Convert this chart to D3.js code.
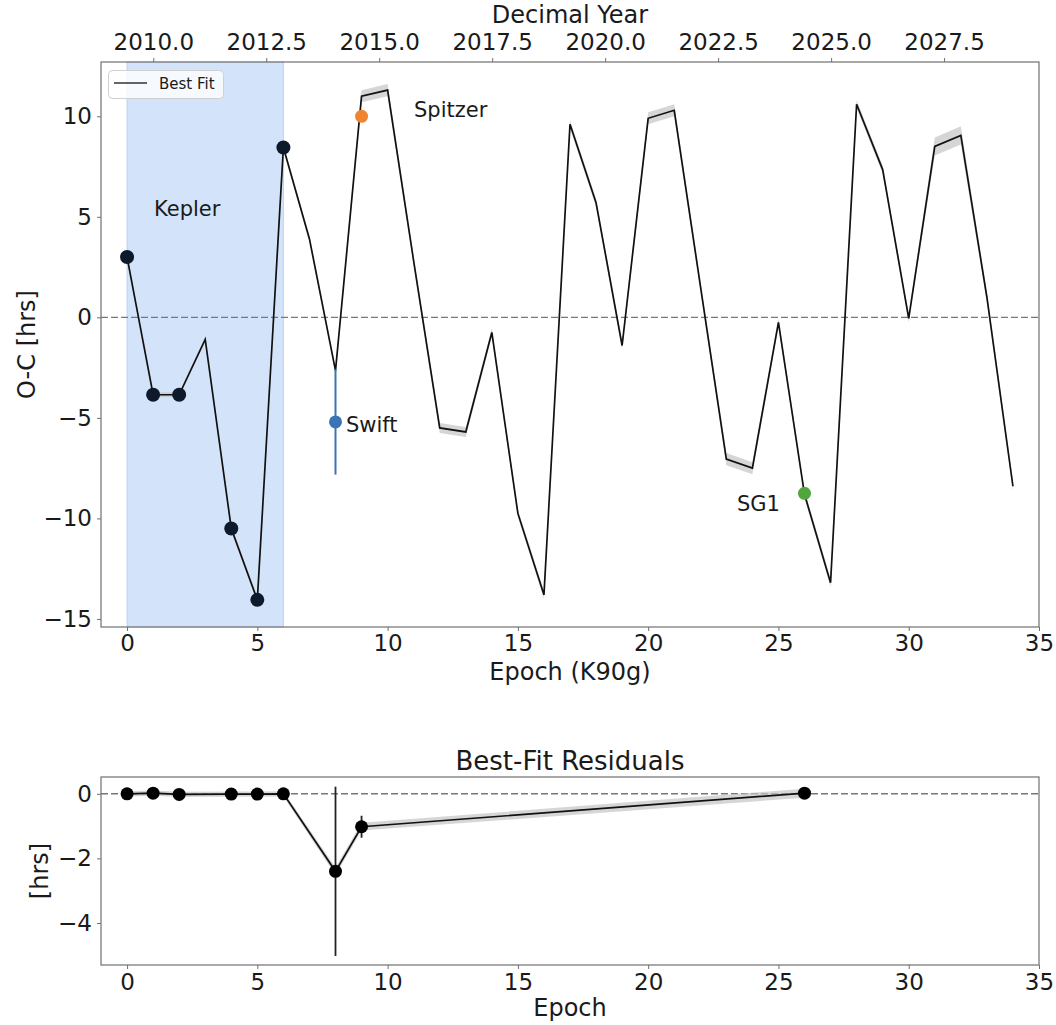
<!DOCTYPE html>
<html>
<head>
<meta charset="utf-8">
<script src="https://cdn.jsdelivr.net/npm/d3@7"></script>
<style>
  body { margin: 0; background: #fff; }
  text { font-family: "DejaVu Sans", sans-serif; fill: #1a1a1a; }
  .axis path, .axis line { stroke: #707070; }
</style>
</head>
<body>
<div id="chart"></div>
<script>
// best fit O-C per epoch (hrs)
var fitEpoch = d3.range(0, 35);
var fitOC = [3.0, -3.85, -3.85, -1.1, -10.5, -14.05, 8.45, 3.9, -2.65, 11.0,
             11.3, 2.8, -5.5, -5.7, -0.75, -9.75, -13.8, 9.6, 5.7, -1.4,
             9.9, 10.3, 1.6, -7.05, -7.5, -0.25, -8.8, -13.2, 10.6, 7.35,
             -0.05, 8.5, 9.05, 1.0, -8.4];
var fitBand = [0.12, 0.12, 0.12, 0.12, 0.15, 0.15, 0.15, 0.15, 0.15, 0.3,
               0.3, 0.2, 0.25, 0.25, 0.2, 0.2, 0.2, 0.2, 0.2, 0.2,
               0.3, 0.3, 0.2, 0.3, 0.3, 0.2, 0.2, 0.2, 0.2, 0.2,
               0.2, 0.45, 0.45, 0.25, 0.25];

// observations
var keplerEpoch = [0, 1, 2, 4, 5, 6];
var keplerOC = [3.0, -3.85, -3.85, -10.5, -14.05, 8.45];
var swiftEpoch = 8, swiftOC = -5.2, swiftErr = 2.62;
var spitzerEpoch = 9, spitzerOC = 10.0;
var sg1Epoch = 26, sg1OC = -8.75;

// residuals
var resEpoch = [0, 1, 2, 4, 5, 6, 8, 9, 26];
var resVal = [0.0, 0.02, -0.02, -0.01, -0.01, 0.0, -2.4, -1.02, 0.02];
var resErr = [0.03, 0.03, 0.03, 0.03, 0.03, 0.03, 2.62, 0.34, 0.03];
var resBand = [0.08, 0.08, 0.08, 0.08, 0.08, 0.08, 0.12, 0.12, 0.14];

var xTicks = [0, 5, 10, 15, 20, 25, 30, 35];
var yTicksTop = [-15, -10, -5, 0, 5, 10];
var yTicksBot = [-4, -2, 0];
var yearTicks = [2010.0, 2012.5, 2015.0, 2017.5, 2020.0, 2022.5, 2025.0, 2027.5];
var year0 = 2009.42, period = 210.6 / 365.25;

var W = 1056, H = 1025;
var svg = d3.select("#chart").append("svg").attr("width", W).attr("height", H);

var L = 101, R = 1039;
var top1 = 62, bot1 = 627, top2 = 777, bot2 = 965;

var x = d3.scaleLinear().domain([-1, 35]).range([L, R]);
var y = d3.scaleLinear().domain([-15.4, 12.7]).range([bot1, top1]);
var y2 = d3.scaleLinear().domain([-5.3, 0.52]).range([bot2, top2]);
var xYear = d3.scaleLinear()
    .domain([year0 - period, year0 + 35 * period]).range([L, R]);

var fs = 23;
var minus = function(d) { return d < 0 ? "\u2212" + Math.abs(d) : d; };

// ---------- top panel ----------
var g1 = svg.append("g");

// Kepler window
g1.append("rect")
    .attr("x", x(0)).attr("y", top1)
    .attr("width", x(6) - x(0)).attr("height", bot1 - top1)
    .attr("fill", "#d3e4fa").attr("stroke", "#b9d3f5").attr("stroke-width", 1);

g1.append("line")
    .attr("x1", L).attr("x2", R).attr("y1", y(0)).attr("y2", y(0))
    .attr("stroke", "#777").attr("stroke-width", 1.4).attr("stroke-dasharray", "7,3");

var band = d3.area()
    .x(function(d, i) { return x(fitEpoch[i]); })
    .y0(function(d, i) { return y(fitOC[i] - fitBand[i]); })
    .y1(function(d, i) { return y(fitOC[i] + fitBand[i]); });
g1.append("path").attr("d", band(fitOC))
    .attr("fill", "#c4c4c4").attr("opacity", 0.7);

var line = d3.line()
    .x(function(d, i) { return x(fitEpoch[i]); })
    .y(function(d) { return y(d); });
g1.append("path").attr("d", line(fitOC))
    .attr("fill", "none").attr("stroke", "#111").attr("stroke-width", 1.7);

// Swift error bar + point
g1.append("line")
    .attr("x1", x(swiftEpoch)).attr("x2", x(swiftEpoch))
    .attr("y1", y(swiftOC + swiftErr)).attr("y2", y(swiftOC - swiftErr))
    .attr("stroke", "#3a74b4").attr("stroke-width", 2);
g1.append("circle").attr("cx", x(swiftEpoch)).attr("cy", y(swiftOC)).attr("r", 6.5)
    .attr("fill", "#3a74b4");

g1.selectAll(".kep").data(keplerEpoch).enter().append("circle")
    .attr("cx", function(d) { return x(d); })
    .attr("cy", function(d, i) { return y(keplerOC[i]); })
    .attr("r", 7).attr("fill", "#0e1a2c");

g1.append("circle").attr("cx", x(spitzerEpoch)).attr("cy", y(spitzerOC)).attr("r", 6.5)
    .attr("fill", "#f0842f");
g1.append("circle").attr("cx", x(sg1Epoch)).attr("cy", y(sg1OC)).attr("r", 6.5)
    .attr("fill", "#4ea63c");

// annotations
var annFs = 21;
g1.append("text").attr("x", 154).attr("y", 216).attr("font-size", annFs).text("Kepler");
g1.append("text").attr("x", 414).attr("y", 117).attr("font-size", annFs).text("Spitzer");
g1.append("text").attr("x", 346).attr("y", 432).attr("font-size", annFs).text("Swift");
g1.append("text").attr("x", 737).attr("y", 511).attr("font-size", annFs).text("SG1");

// frame
g1.append("rect").attr("x", L).attr("y", top1).attr("width", R - L).attr("height", bot1 - top1)
    .attr("fill", "none").attr("stroke", "#707070").attr("stroke-width", 1.2);

// axes
var ax1 = g1.append("g").attr("class", "axis").attr("transform", "translate(0," + bot1 + ")")
    .call(d3.axisBottom(x).tickValues(xTicks).tickSize(4).tickPadding(4));
var ay1 = g1.append("g").attr("class", "axis").attr("transform", "translate(" + L + ",0)")
    .call(d3.axisLeft(y).tickValues(yTicksTop).tickSize(4).tickPadding(5).tickFormat(minus));
var at1 = g1.append("g").attr("class", "axis").attr("transform", "translate(0," + top1 + ")")
    .call(d3.axisTop(xYear).tickValues(yearTicks).tickSize(4).tickPadding(8)
        .tickFormat(d3.format(".1f")));
[ax1, ay1, at1].forEach(function(a) {
  a.select(".domain").remove();
  a.selectAll("text").attr("font-size", fs).attr("fill", "#1a1a1a")
      .style("font-family", "DejaVu Sans");
});

g1.append("text").attr("x", (L + R) / 2).attr("y", 680).attr("text-anchor", "middle")
    .attr("font-size", 24).text("Epoch (K90g)");
g1.append("text").attr("x", (L + R) / 2).attr("y", 22.5).attr("text-anchor", "middle")
    .attr("font-size", 24).text("Decimal Year");
g1.append("text").attr("transform", "translate(35," + (top1 + bot1) / 2 + ") rotate(-90)")
    .attr("text-anchor", "middle").attr("font-size", 24).text("O-C [hrs]");

// legend
var lg = g1.append("g");
lg.append("rect").attr("x", 108.5).attr("y", 70.5).attr("width", 115).attr("height", 28)
    .attr("rx", 4).attr("fill", "#fff").attr("fill-opacity", 0.8).attr("stroke", "#d0d0d0");
lg.append("line").attr("x1", 114).attr("x2", 147).attr("y1", 83).attr("y2", 83)
    .attr("stroke", "#333").attr("stroke-width", 1.7);
lg.append("text").attr("x", 159).attr("y", 89).attr("font-size", 15).text("Best Fit");

// ---------- bottom panel ----------
var g2 = svg.append("g");

g2.append("line")
    .attr("x1", L).attr("x2", R).attr("y1", y2(0)).attr("y2", y2(0))
    .attr("stroke", "#777").attr("stroke-width", 1.4).attr("stroke-dasharray", "7,3");

var band2 = d3.area()
    .x(function(d, i) { return x(resEpoch[i]); })
    .y0(function(d, i) { return y2(resVal[i] - resBand[i]); })
    .y1(function(d, i) { return y2(resVal[i] + resBand[i]); });
g2.append("path").attr("d", band2(resVal)).attr("fill", "#c4c4c4").attr("opacity", 0.7);

var line2 = d3.line()
    .x(function(d, i) { return x(resEpoch[i]); })
    .y(function(d) { return y2(d); });
g2.append("path").attr("d", line2(resVal))
    .attr("fill", "none").attr("stroke", "#111").attr("stroke-width", 1.7);

g2.selectAll(".eb").data(resEpoch).enter().append("line")
    .attr("x1", function(d) { return x(d); }).attr("x2", function(d) { return x(d); })
    .attr("y1", function(d, i) { return y2(resVal[i] + resErr[i]); })
    .attr("y2", function(d, i) { return y2(resVal[i] - resErr[i]); })
    .attr("stroke", "#222").attr("stroke-width", 1.8);

g2.selectAll(".rp").data(resEpoch).enter().append("circle")
    .attr("cx", function(d) { return x(d); })
    .attr("cy", function(d, i) { return y2(resVal[i]); })
    .attr("r", 6.5).attr("fill", "#000");

g2.append("rect").attr("x", L).attr("y", top2).attr("width", R - L).attr("height", bot2 - top2)
    .attr("fill", "none").attr("stroke", "#707070").attr("stroke-width", 1.2);

var ax2 = g2.append("g").attr("class", "axis").attr("transform", "translate(0," + bot2 + ")")
    .call(d3.axisBottom(x).tickValues(xTicks).tickSize(4).tickPadding(5));
var ay2 = g2.append("g").attr("class", "axis").attr("transform", "translate(" + L + ",0)")
    .call(d3.axisLeft(y2).tickValues(yTicksBot).tickSize(4).tickPadding(5).tickFormat(minus));
[ax2, ay2].forEach(function(a) {
  a.select(".domain").remove();
  a.selectAll("text").attr("font-size", fs).attr("fill", "#1a1a1a")
      .style("font-family", "DejaVu Sans");
});

g2.append("text").attr("x", (L + R) / 2).attr("y", 770).attr("text-anchor", "middle")
    .attr("font-size", 26).text("Best-Fit Residuals");
g2.append("text").attr("x", (L + R) / 2).attr("y", 1016).attr("text-anchor", "middle")
    .attr("font-size", 24).text("Epoch");
g2.append("text").attr("transform", "translate(48," + (top2 + bot2) / 2 + ") rotate(-90)")
    .attr("text-anchor", "middle").attr("font-size", 24).text("[hrs]");
</script>
</body>
</html>
